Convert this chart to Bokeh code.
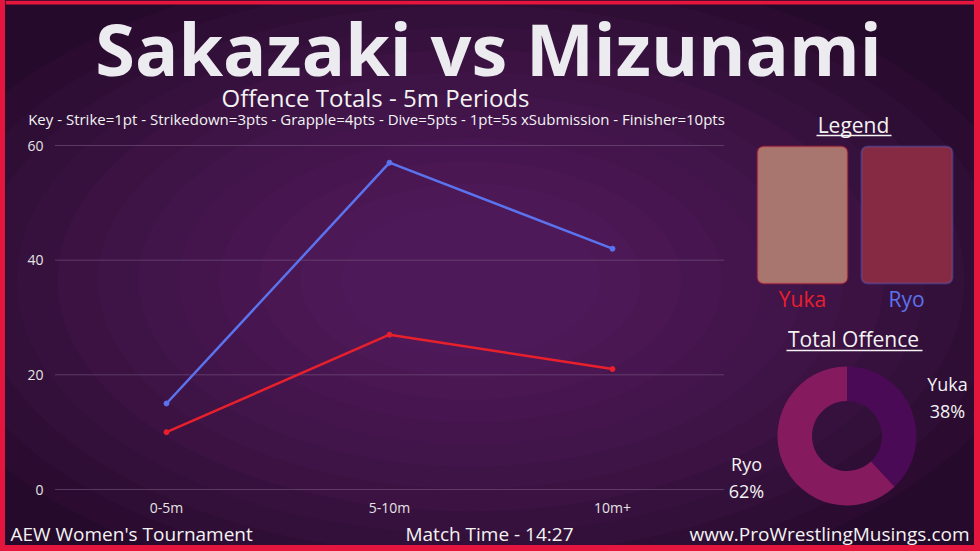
import numpy as np
from bokeh.plotting import figure
from bokeh.models import Range1d, FixedTicker, Label, BoxAnnotation, GlobalInlineStyleSheet
from bokeh.embed import file_html
from bokeh.resources import INLINE

# ---------------- data ----------------
periods = ["0-5m", "5-10m", "10m+"]
yuka = [10, 27, 21]
ryo = [15, 57, 42]
y_ticks = [0, 20, 40, 60]
share_names = ["Yuka", "Ryo"]
share_pct = [38, 62]

title = "Sakazaki vs Mizunami"
subtitle = "Offence Totals - 5m Periods"
key_text = ("Key - Strike=1pt - Strikedown=3pts - Grapple=4pts - Dive=5pts - "
            "1pt=5s xSubmission - Finisher=10pts")
footer_left = "AEW Women's Tournament"
footer_mid = "Match Time - 14:27"
footer_right = "www.ProWrestlingMusings.com"

# ---------------- styling / layout ----------------
RED = "#e8202c"
BORDER_RED = "#e5163d"
BLUE = "#5b73ee"
BG = "#260a2b"
GLOW = "#6b2479"
TXT = "#f3f3f3"
FONT = "Open Sans"

M_TOP, M_RIGHT, M_BOTTOM, M_LEFT = 0, 6, 6, 5
TOP_STRIP = 4
W = 980 - M_LEFT - M_RIGHT
H = 551 - M_TOP - M_BOTTOM
FL, FR, FT, FB = M_LEFT, 980 - M_RIGHT, M_TOP, 551 - M_BOTTOM  # frame, page px
Y0_PX, PX_PER_UNIT = 489, 344 / 60               # value axis placement
X0_PX, PX_PER_CAT = 166, 223                     # category placement


def Y(ry):
    return 551 - ry


p = figure(
    width=W, height=H,
    x_range=Range1d((FL - X0_PX) / PX_PER_CAT, (FR - X0_PX) / PX_PER_CAT),
    y_range=Range1d((Y0_PX - FB) / PX_PER_UNIT, (Y0_PX - FT) / PX_PER_UNIT),
    output_backend="svg", toolbar_location=None,
    min_border_left=0, min_border_right=0, min_border_top=0, min_border_bottom=0,
    background_fill_color=BG, border_fill_color=BG, outline_line_color=None,
    styles={"background-color": BG},
)
p.margin = (M_TOP, M_RIGHT, M_BOTTOM, M_LEFT)
p.stylesheets = [GlobalInlineStyleSheet(css=f"html,body{{background-color:{BORDER_RED};}}")]
p.extra_x_ranges = {"px": Range1d(FL, FR)}
p.extra_y_ranges = {"py": Range1d(Y(FB), Y(FT))}

# background glow
n_glow = 12
gw = list(np.linspace(1150, 260, n_glow))
gh = list(np.linspace(640, 150, n_glow))
p.ellipse(x=[470] * n_glow, y=[Y(280)] * n_glow, width=gw, height=gh,
          x_range_name="px", y_range_name="py",
          fill_color=GLOW, fill_alpha=0.07, line_color=None, level="image")

# top red edge of the frame
p.add_layout(BoxAnnotation(left=FL, right=FR, top=Y(0), bottom=Y(TOP_STRIP),
                           x_range_name="px", y_range_name="py",
                           fill_color=BORDER_RED, fill_alpha=1, line_color=None,
                           level="underlay"))

# axes (labels pulled into the canvas area)
p.xgrid.visible = False
p.ygrid.visible = False
for ax in (p.xaxis, p.yaxis):
    ax.axis_line_color = None
    ax.major_tick_line_color = None
    ax.minor_tick_line_color = None
    ax.major_tick_out = 0
    ax.major_tick_in = 0
    ax.minor_tick_out = 0
    ax.minor_tick_in = 0
    ax.major_label_text_color = "#e4e4e4"
    ax.major_label_text_font = FONT
    ax.major_label_text_font_size = "14px"
p.yaxis.ticker = FixedTicker(ticks=y_ticks)
p.yaxis.major_label_standoff = -38
p.xaxis.ticker = FixedTicker(ticks=list(range(len(periods))))
p.xaxis.major_label_overrides = {i: s for i, s in enumerate(periods)}
p.xaxis.major_label_standoff = -48

# grid lines over the category band
p.segment(x0=-0.5, x1=len(periods) - 0.5, y0=y_ticks, y1=y_ticks,
          line_color="#7d5c85", line_alpha=0.55, line_width=1)

xs = list(range(len(periods)))
p.line(xs, ryo, line_color=BLUE, line_width=2.5)
p.scatter(xs, ryo, size=5, color=BLUE)
p.line(xs, yuka, line_color=RED, line_width=2.5)
p.scatter(xs, yuka, size=5, color=RED)

# donut
fr = np.array(share_pct, dtype=float) / sum(share_pct)
cum = np.concatenate([[0.0], np.cumsum(fr)])
starts = np.pi / 2 - 2 * np.pi * cum[:-1]
ends = np.pi / 2 - 2 * np.pi * cum[1:]
p.annular_wedge(x=846.5, y=Y(435.5), inner_radius=35, outer_radius=69.5,
                inner_radius_units="screen", outer_radius_units="screen",
                start_angle=starts, end_angle=ends, direction="clock",
                fill_color=["#4b0a55", "#861a5f"], line_color=None,
                x_range_name="px", y_range_name="py")

# photo placeholders
p.add_layout(BoxAnnotation(left=757, right=847, top=Y(146), bottom=Y(283),
                           x_range_name="px", y_range_name="py",
                           fill_color="#a8766f", fill_alpha=1,
                           line_color=RED, line_width=2, border_radius=6))
p.add_layout(BoxAnnotation(left=861, right=952, top=Y(146), bottom=Y(283),
                           x_range_name="px", y_range_name="py",
                           fill_color="#862a44", fill_alpha=1,
                           line_color=BLUE, line_width=2, border_radius=6))

# underlines
p.segment(x0=[816, 786], x1=[891, 922], y0=[Y(135), Y(350)], y1=[Y(135), Y(350)],
          line_color=TXT, line_width=1.5, x_range_name="px", y_range_name="py")


def lab(text, x, y, size, color=TXT, bold=False, align="center"):
    p.add_layout(Label(x=x, y=Y(y), text=text, text_font=FONT,
                       text_font_size=f"{size}px",
                       text_font_style="bold" if bold else "normal",
                       text_color=color, text_align=align,
                       text_baseline="middle",
                       x_range_name="px", y_range_name="py"))


lab(title, 488, 47, 72, color="#ececf0", bold=True)
lab(subtitle, 375, 97, 24)
lab(key_text, 376, 118, 15)
lab("Legend", 853, 124, 21)
lab(share_names[0], 802, 298, 21, color=RED)
lab(share_names[1], 906, 298, 21, color=BLUE)
lab("Total Offence", 853, 338, 21)
lab(share_names[0], 947, 383, 18)
lab(f"{share_pct[0]}%", 947, 410, 18)
lab(share_names[1], 746, 463, 18)
lab(f"{share_pct[1]}%", 746, 490, 18)
lab(footer_left, 10, 533, 19, align="left")
lab(footer_mid, 489, 533, 19)
lab(footer_right, 969, 533, 19, align="right")

open("out.html", "w").write(file_html(p, INLINE))
